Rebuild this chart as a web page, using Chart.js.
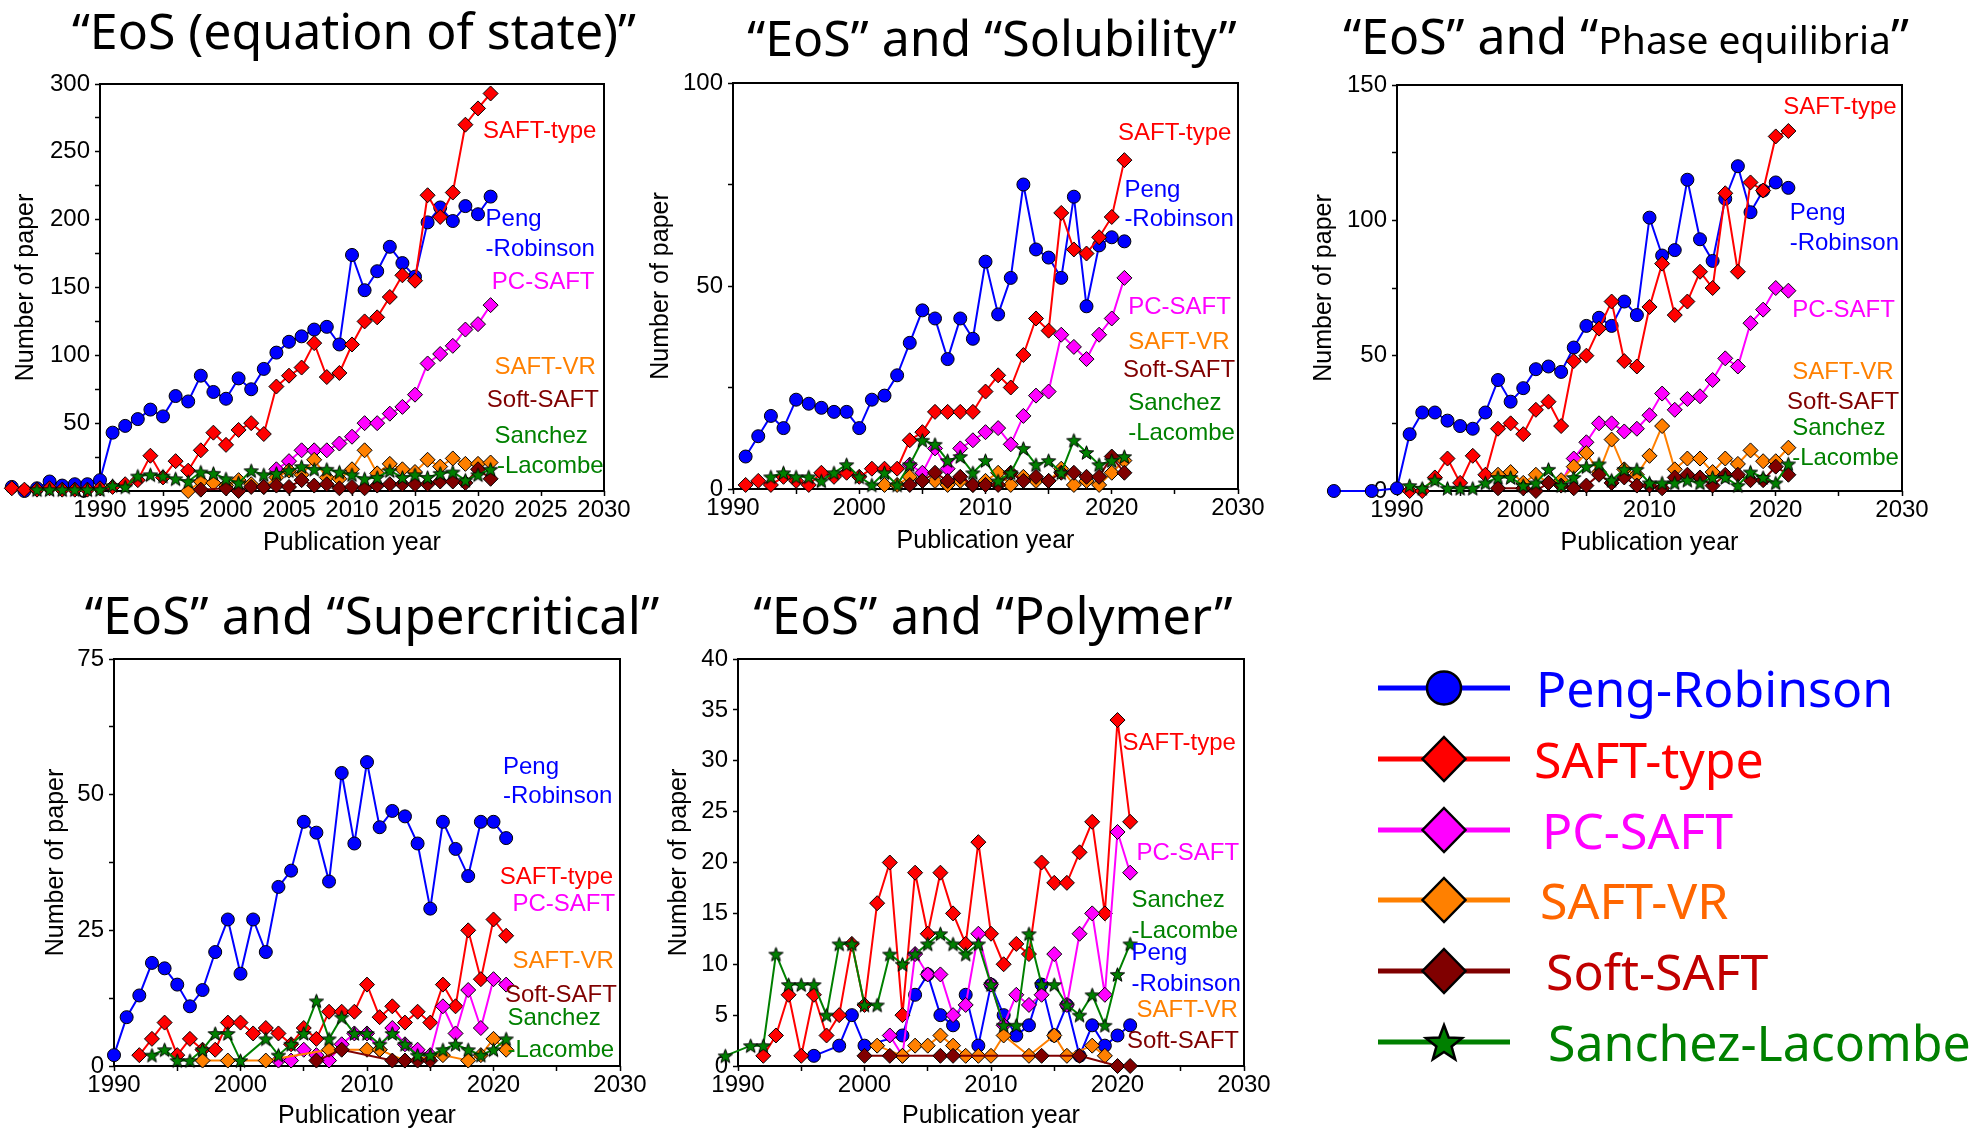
<!DOCTYPE html>
<html>
<head>
<meta charset="utf-8">
<script src="https://cdn.jsdelivr.net/npm/chart.js@4.4.1/dist/chart.umd.min.js"></script>
<style>
  html, body { margin: 0; padding: 0; background: #fff; }
  body { width: 1980px; height: 1131px; position: relative; overflow: hidden; font-family: 'Noto Sans', sans-serif; }
  canvas { position: absolute; }
  .title { position: absolute; transform: translate(-50%, -50%); white-space: nowrap; font-size: 50px; line-height: 1; color: #000; z-index: 2; }
  .title small { font-size: 39px; }
  .lg-icon { position: absolute; left: 1376px; width: 136px; height: 50px; }
  .lg-text { position: absolute; white-space: nowrap; font-size: 50px; line-height: 1; transform: translateY(-50%); }
</style>
</head>
<body>
<div class="title" style="left:354px; top:30px">“EoS (equation of state)”</div>
<div class="title" style="left:992px; top:37px">“EoS” and “Solubility”</div>
<div class="title" style="left:1626px; top:35px">“EoS” and “<small>Phase equilibria</small>”</div>
<div class="title" style="left:372px; top:614px; font-size:51px">“EoS” and “Supercritical”</div>
<div class="title" style="left:993px; top:614px; font-size:51px">“EoS” and “Polymer”</div>

<canvas id="c1"></canvas>
<canvas id="c2"></canvas>
<canvas id="c3"></canvas>
<canvas id="c4"></canvas>
<canvas id="c5"></canvas>
<div id="legend"></div>

<script>
// ---- data ----
const years90 = [1990, 1991, 1992, 1993, 1994, 1995, 1996, 1997, 1998, 1999, 2000, 2001, 2002, 2003, 2004, 2005,
  2006, 2007, 2008, 2009, 2010, 2011, 2012, 2013, 2014, 2015, 2016, 2017, 2018, 2019, 2020, 2021];
const eosYears = [1983, 1984, 1985, 1986, 1987, 1988, 1989, ...years90];
const phaseYears = [1985, 1986, 1987, 1988, 1989, ...years90];
const polyYears = [1989, ...years90];

const seriesNames = ['Peng-Robinson', 'SAFT-type', 'PC-SAFT', 'SAFT-VR', 'Soft-SAFT', 'Sanchez-Lacombe'];
const seriesColors = ['#0000ff', '#ff0000', '#ff00ff', '#ff8000', '#800000', '#008000'];

// "EoS (equation of state)"
const eosPR = [3, 0, 2, 7, 4, 5, 5, 8, 43, 48, 53, 60, 55, 70, 66, 85, 73, 68, 83, 75, 90, 102, 110, 114, 119, 121,
  108, 174, 148, 162, 180, 168, 158, 198, 209, 199, 210, 204, 217];
const eosSAFT = [2, 1, 1, 2, 1, 1, 1, 2, 3, 5, 8, 26, 10, 22, 15, 30, 43, 34, 45, 50, 42, 77, 85, 91, 109, 84,
  87, 108, 125, 128, 143, 159, 155, 218, 202, 220, 270, 282, 293];
const eosPC = [null, null, null, null, null, null, null, null, null, null, null, null, null, null, null, null, null,
  null, null, null, null, 16, 22, 30, 30, 30, 35, 40, 50, 50, 57, 62, 71, 94, 101, 107, 119, 123, 137];
const eosVR = [null, null, null, null, null, null, null, null, null, null, null, null, null, null, 0, 7, 6, 4, 8, 5,
  3, 10, 15, 12, 23, 10, 9, 16, 30, 13, 20, 16, 14, 23, 18, 24, 20, 20, 21];
const eosSoft = [null, null, null, null, null, null, null, null, null, null, null, null, null, null, null, 1, null,
  2, 0, 3, 3, 4, 3, 8, 4, 5, 2, 3, 2, 4, 5, 5, 5, 5, 7, 7, 6, 16, 9];
const eosSL = [null, null, 1, 1, 1, 1, 1, 1, 4, 3, 11, 12, 11, 9, 7, 14, 13, 9, 6, 15, 12, 13, 15, 18, 16, 16,
  14, 12, 9, 10, 15, 10, 12, 10, 13, 14, 8, 12, 16];

// "EoS" and "Solubility"
const solPR = [null, 8, 13, 18, 15, 22, 21, 20, 19, 19, 15, 22, 23, 28, 36, 44, 42, 32, 42, 37, 56, 43, 52, 75,
  59, 57, 52, 72, 45, 60, 62, 61];
const solSAFT = [null, 1, 2, 1, 3, 2, 1, 4, 3, 4, 3, 5, 5, 5, 12, 14, 19, 19, 19, 19, 24, 28, 25, 33, 42, 39, 68,
  59, 58, 62, 67, 81];
const solPC = [null, null, null, null, null, null, null, null, null, null, null, null, null, null, 6, 4, 10, 5,
  10, 12, 14, 15, 11, 18, 23, 24, 38, 35, 32, 38, 42, 52];
const solVR = [null, null, null, null, null, null, null, null, null, null, null, null, 1, 1, 3, 2, 2, 1, 2, 1, 2,
  4, 1, 3, 2, 2, 5, 1, 2, 1, 4, 7];
const solSoft = [null, null, null, null, null, null, null, null, null, null, null, null, null, null, 1, 2, 4, 2,
  3, 1, 1, 1, 4, 2, 3, 2, 4, 4, 3, 3, 8, 4];
const solSL = [null, null, null, 3, 4, 3, 3, 2, 4, 6, 3, 1, 4, 1, 6, 12, 11, 7, 8, 4, 7, 2, 4, 10, 6, 7, 4, 12,
  9, 6, 7, 8];

// "EoS" and "Phase equilibria"
const phasePR = [0, null, null, 0, null, 1, 21, 29, 29, 26, 24, 23, 29, 41, 33, 38, 45, 46, 44, 53, 61, 64, 61,
  70, 65, 101, 87, 89, 115, 93, 85, 108, 120, 103, 111, 114, 112];
const phaseSAFT = [null, null, null, null, null, null, 0, 0, 5, 12, 3, 13, 6, 23, 25, 21, 30, 33, 24, 48, 50, 60,
  70, 48, 46, 68, 84, 65, 70, 81, 75, 110, 81, 114, 111, 131, 133];
const phasePC = [null, null, null, null, null, null, null, null, null, null, null, null, null, null, null, null,
  null, 3, 3, 12, 18, 25, 25, 22, 23, 28, 36, 30, 34, 35, 41, 49, 46, 62, 67, 75, 74];
const phaseVR = [null, null, null, null, null, null, null, null, null, null, null, null, null, 6, 7, 3, 6, 3, 4,
  9, 14, 7, 19, 8, 6, 13, 24, 8, 12, 12, 7, 12, 10, 15, 11, 11, 16];
const phaseSoft = [null, null, null, null, null, null, null, null, null, null, null, null, null, 1, null, 1, 0, 3,
  2, 1, 2, 6, 3, 5, 2, 2, 1, 5, 6, 5, 2, 6, 6, 4, 4, 9, 6];
const phaseSL = [null, null, null, null, null, null, 2, 1, 4, 1, 1, 1, 3, 5, 5, 2, 3, 8, 2, 5, 9, 10, 4, 8, 8, 3,
  3, 3, 4, 3, 5, 5, 2, 7, 5, 3, 10];

// "EoS" and "Supercritical"
const supPR = [2, 9, 13, 19, 18, 15, 11, 14, 21, 27, 17, 27, 21, 33, 36, 45, 43, 34, 54, 41, 56, 44, 47, 46, 41,
  29, 45, 40, 35, 45, 45, 42];
const supSAFT = [null, null, 2, 5, 8, 2, 5, 3, 3, 8, 8, 6, 7, 6, 4, 7, 5, 10, 10, 10, 15, 9, 11, 8, 10, 8, 15,
  11, 25, 16, 27, 24];
const supPC = [null, null, null, null, null, null, null, null, null, null, null, null, null, 1, 1, 3, 2, 1, 4, 6,
  6, 3, 7, 4, 3, 2, 11, 6, 14, 7, 16, 15];
const supVR = [null, null, null, null, null, null, null, 1, null, 1, null, null, 1, null, null, null, null, 3,
  null, null, 3, 3, null, 1, null, null, 2, null, 1, 2, 5, 3];
const supSoft = [null, null, null, null, null, null, null, null, null, null, null, null, null, null, null, null,
  1, null, 3, null, null, null, 1, 1, 1, 1, null, null, null, null, null, null];
const supSL = [null, null, null, 2, 3, 1, 1, 3, 6, 6, 1, null, 5, 2, 4, 6, 12, 5, 9, 6, 6, 4, 6, 4, 2, 2, 3, 4,
  3, 2, 3, 5];

// "EoS" and "Polymer"
const polyPR = [null, null, null, null, null, null, null, 1, null, 2, 5, 2, null, null, 3, 7, 9, 5, 4, 7, 2, 8, 5,
  3, 4, 8, 3, 6, 1, 4, 2, 3, 4];
const polySAFT = [null, null, null, 1, 3, 7, 1, 7, 3, 5, 12, 6, 16, 20, 5, 19, 13, 19, 15, 12, 22, 13, 10, 12,
  11, 20, 18, 18, 21, 24, 15, 34, 24];
const polyPC = [null, null, null, null, null, null, null, null, null, null, null, null, null, 3, 1, 11, 9, 9, 5,
  6, 13, 8, 4, 7, 6, 7, 11, 6, 13, 15, 7, 23, 19];
const polyVR = [null, null, null, null, null, null, null, null, null, null, null, null, 2, null, 1, 2, 2, 3, 2, 1,
  1, 1, 3, null, 1, null, 3, 1, null, 2, 1, null, null];
const polySoft = [null, null, null, null, null, null, null, null, null, null, null, 1, null, 1, null, null, null,
  1, 1, null, null, null, null, null, null, 1, null, null, 1, null, null, 0, 0];
const polySL = [1, null, 2, 2, 11, 8, 8, 8, 5, 12, 12, 6, 6, 11, 10, 11, 12, 13, 12, 11, 12, 8, 4, 4, 13, 8, 8,
  6, 5, 7, 4, 9, 12];

// ---- helpers ----
Chart.defaults.font.family = "'Liberation Sans', Arial, sans-serif";
Chart.defaults.color = '#000';

function makeStar(r, fill) {
  const c = document.createElement('canvas');
  const s = Math.ceil(r * 2 + 4);
  c.width = s;
  c.height = s;
  const g = c.getContext('2d');
  g.translate(s / 2, s / 2 + r * 0.1);
  g.beginPath();
  for (let i = 0; i < 10; i++) {
    const rad = i % 2 === 0 ? r : r * 0.42;
    const a = -Math.PI / 2 + i * Math.PI / 5;
    g.lineTo(Math.cos(a) * rad, Math.sin(a) * rad);
  }
  g.closePath();
  g.fillStyle = fill;
  g.fill();
  g.lineWidth = 1;
  g.strokeStyle = '#000';
  g.stroke();
  return c;
}
const starImg = makeStar(7.5, seriesColors[5]);

function makeDatasets(years, seriesList) {
  return seriesList.map((values, i) => ({
    label: seriesNames[i],
    data: years.map((yr, j) => ({ x: yr, y: values[j] })),
    borderColor: seriesColors[i],
    backgroundColor: seriesColors[i],
    pointBackgroundColor: seriesColors[i],
    pointBorderColor: '#000',
    pointBorderWidth: 1,
    pointStyle: i === 0 ? 'circle' : (i === 5 ? starImg : 'rectRot'),
    pointRadius: i === 0 ? 6.5 : 7.5,
    borderWidth: 2,
    spanGaps: true,
    clip: false,
    order: 5 - i
  }));
}

function tickList(min, max, step) {
  const out = [];
  for (let v = min; v <= max + 1e-9; v += step) out.push({ value: v });
  return out;
}

// box around the plot area
const framePlugin = {
  id: 'frame',
  beforeDatasetsDraw(chart) {
    const { ctx, chartArea: a } = chart;
    ctx.save();
    ctx.strokeStyle = '#000';
    ctx.lineWidth = 2;
    ctx.strokeRect(a.left, a.top, a.right - a.left, a.bottom - a.top);
    ctx.restore();
  }
};

// points left of 1990 sit outside the axes in the original, draw them too
const outsidePoints = {
  id: 'outsidePoints',
  afterDatasetDraw(chart, args) {
    const area = chart.chartArea;
    const big = { left: -1e4, top: -1e4, right: 1e4, bottom: 1e4 };
    args.meta.data.forEach(pt => {
      if (!pt.skip && pt.x < area.left - 1) pt.draw(chart.ctx, big);
    });
  }
};

// coloured series names next to the curves
const curveLabels = {
  id: 'curveLabels',
  afterDraw(chart, args, opts) {
    const { ctx, scales } = chart;
    ctx.save();
    ctx.font = "24px 'Liberation Sans', Arial, sans-serif";
    ctx.textAlign = 'left';
    ctx.textBaseline = 'middle';
    (opts.items || []).forEach(([text, yr, val, ci]) => {
      ctx.fillStyle = seriesColors[ci];
      ctx.fillText(text, scales.x.getPixelForValue(yr), scales.y.getPixelForValue(val));
    });
    ctx.restore();
  }
};

const panels = [
  {
    id: 'c1', years: eosYears, series: [eosPR, eosSAFT, eosPC, eosVR, eosSoft, eosSL],
    yMax: 300, yStep: 25, yMajor: 50, xMajor: 5,
    box: [0, 60, 660, 498], padTop: 24, padRight: 56, xh: 67, yTitlePad: 11,
    labels: [['SAFT-type', 2020.4, 265, 1], ['Peng', 2020.6, 200, 0], ['-Robinson', 2020.6, 178, 0],
      ['PC-SAFT', 2021.1, 154, 2], ['SAFT-VR', 2021.3, 91, 3], ['Soft-SAFT', 2020.7, 67, 4],
      ['Sanchez', 2021.3, 40, 5], ['-Lacombe', 2021.5, 18, 5]]
  },
  {
    id: 'c2', years: years90, series: [solPR, solSAFT, solPC, solVR, solSoft, solSL],
    yMax: 100, yStep: 25, yMajor: 50, xMajor: 10,
    box: [633, 59, 661, 497], padTop: 24, padRight: 56, xh: 67, yTitlePad: 13,
    labels: [['SAFT-type', 2020.5, 87.7, 1], ['Peng', 2021, 73.6, 0], ['-Robinson', 2021, 66.3, 0],
      ['PC-SAFT', 2021.3, 44.8, 2], ['SAFT-VR', 2021.3, 36, 3], ['Soft-SAFT', 2020.9, 29.3, 4],
      ['Sanchez', 2021.3, 21.2, 5], ['-Lacombe', 2021.3, 13.8, 5]]
  },
  {
    id: 'c3', years: phaseYears, series: [phasePR, phaseSAFT, phasePC, phaseVR, phaseSoft, phaseSL],
    yMax: 150, yStep: 25, yMajor: 50, xMajor: 10,
    box: [1297, 61, 661, 497], padTop: 24, padRight: 56, xh: 67, yTitlePad: 12,
    labels: [['SAFT-type', 2020.6, 141.9, 1], ['Peng', 2021.1, 102.7, 0], ['-Robinson', 2021.1, 91.6, 0],
      ['PC-SAFT', 2021.3, 66.9, 2], ['SAFT-VR', 2021.3, 44, 3], ['Soft-SAFT', 2020.9, 32.9, 4],
      ['Sanchez', 2021.3, 23.3, 5], ['-Lacombe', 2021.3, 12.2, 5]]
  },
  {
    id: 'c4', years: years90, series: [supPR, supSAFT, supPC, supVR, supSoft, supSL],
    yMax: 75, yStep: 12.5, yMajor: 25, xMajor: 10,
    box: [14, 635, 646, 496], padTop: 24, padRight: 40, xh: 65, yTitlePad: 27,
    labels: [['Peng', 2020.75, 55.1, 0], ['-Robinson', 2020.75, 49.6, 0], ['SAFT-type', 2020.5, 34.8, 1],
      ['PC-SAFT', 2021.5, 29.7, 2], ['SAFT-VR', 2021.5, 19.2, 3], ['Soft-SAFT', 2020.9, 13.1, 4],
      ['Sanchez', 2021.1, 8.8, 5], ['-Lacombe', 2021.1, 2.8, 5]]
  },
  {
    id: 'c5', years: polyYears, series: [polyPR, polySAFT, polyPC, polyVR, polySoft, polySL],
    yMax: 40, yStep: 2.5, yMajor: 5, xMajor: 10,
    box: [638, 635, 646, 496], padTop: 24, padRight: 40, xh: 65, yTitlePad: 26,
    labels: [['SAFT-type', 2020.4, 31.7, 1], ['PC-SAFT', 2021.5, 20.9, 2], ['Sanchez', 2021.1, 16.3, 5],
      ['-Lacombe', 2021.1, 13.2, 5], ['Peng', 2021.1, 11.1, 0], ['-Robinson', 2021.1, 8, 0],
      ['SAFT-VR', 2021.5, 5.5, 3], ['Soft-SAFT', 2020.75, 2.4, 4]]
  }
];

panels.forEach(p => {
  const canvas = document.getElementById(p.id);
  const [left, top, w, h] = p.box;
  canvas.style.left = left + 'px';
  canvas.style.top = top + 'px';
  canvas.width = w;
  canvas.height = h;

  new Chart(canvas, {
    type: 'line',
    data: { datasets: makeDatasets(p.years, p.series) },
    plugins: [framePlugin, outsidePoints, curveLabels],
    options: {
      responsive: false,
      devicePixelRatio: 1,
      animation: false,
      events: [],
      layout: { padding: { top: p.padTop, right: p.padRight, left: 0, bottom: 0 } },
      plugins: {
        legend: { display: false },
        tooltip: { enabled: false },
        curveLabels: { items: p.labels }
      },
      scales: {
        x: {
          type: 'linear',
          afterDataLimits: s => { s.min = 1990; s.max = 2030; },
          afterBuildTicks: s => { s.ticks = tickList(1990, 2030, 5); },
          afterFit: s => { s.height = p.xh; },
          grid: { drawOnChartArea: false, drawTicks: true, tickLength: 5, tickColor: '#000', tickWidth: 1.5 },
          border: { display: false },
          ticks: {
            color: '#000', font: { size: 24 }, padding: 0, autoSkip: false, maxRotation: 0, minRotation: 0,
            callback: v => (v % p.xMajor === 0 ? String(v) : '')
          },
          title: { display: true, text: 'Publication year', color: '#000', font: { size: 25 }, padding: { top: 0, bottom: 0 } }
        },
        y: {
          min: 0,
          max: p.yMax,
          afterBuildTicks: s => { s.ticks = tickList(0, p.yMax, p.yStep); },
          afterFit: s => { s.width = 100; },
          grid: { drawOnChartArea: false, drawTicks: true, tickLength: 5, tickColor: '#000', tickWidth: 1.5 },
          border: { display: false },
          ticks: {
            color: '#000', font: { size: 24 }, padding: 5,
            callback: v => (v % p.yMajor === 0 ? String(v) : '')
          },
          title: { display: true, text: 'Number of paper', color: '#000', font: { size: 25 }, padding: { top: p.yTitlePad, bottom: 0 } }
        }
      }
    }
  });
});

// ---- shared legend ----
const legendRows = [688, 759, 830, 900, 971, 1042];
const legendTextLeft = [1536, 1534, 1542, 1540, 1546, 1548];
const legendTextColors = ['#0000ff', '#ff0000', '#ff00ff', '#ff6600', '#c00000', '#008000'];

function legendMarker(i) {
  const c = seriesColors[i];
  if (i === 0) return `<ellipse cx="68" cy="25" rx="17" ry="16.5" fill="${c}" stroke="#000" stroke-width="2.5"/>`;
  if (i === 5) {
    const pts = [];
    for (let k = 0; k < 10; k++) {
      const rad = k % 2 === 0 ? 19 : 8;
      const a = -Math.PI / 2 + k * Math.PI / 5;
      pts.push((68 + Math.cos(a) * rad).toFixed(1) + ',' + (27 + Math.sin(a) * rad).toFixed(1));
    }
    return `<polygon points="${pts.join(' ')}" fill="${c}" stroke="#000" stroke-width="2.5"/>`;
  }
  return `<polygon points="68,3 89.5,25 68,47 46.5,25" fill="${c}" stroke="#000" stroke-width="2.5"/>`;
}

const legend = document.getElementById('legend');
seriesNames.forEach((name, i) => {
  const y = legendRows[i];
  legend.insertAdjacentHTML('beforeend',
    `<svg class="lg-icon" style="top:${y - 25}px" viewBox="0 0 136 50">
       <line x1="2" y1="25" x2="134" y2="25" stroke="${seriesColors[i]}" stroke-width="5"/>
       ${legendMarker(i)}
     </svg>
     <div class="lg-text" style="left:${legendTextLeft[i]}px; top:${y}px; color:${legendTextColors[i]}">${name}</div>`);
});
</script>
</body>
</html>
